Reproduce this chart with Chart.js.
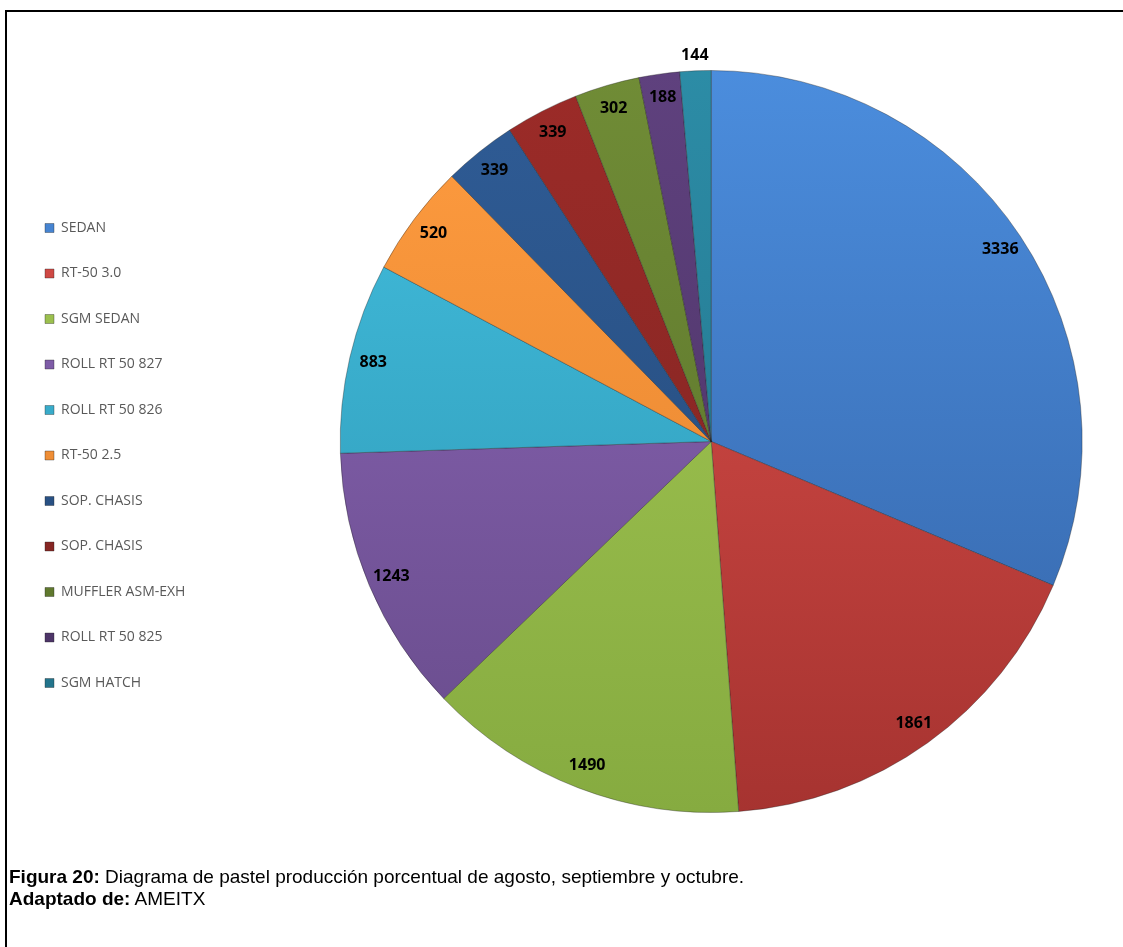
<!DOCTYPE html>
<html>
<head>
<meta charset="utf-8">
<script src="https://cdn.jsdelivr.net/npm/chart.js@4"></script>
<style>
  html, body { margin: 0; padding: 0; background: #fff; overflow: hidden; }
  #marco { position: absolute; left: 5px; top: 10px; width: 1130px; height: 950px;
           border-left: 2px solid #000; border-top: 2px solid #000; }
  #lienzo { position: absolute; left: 0; top: 0; width: 1123px; height: 947px; overflow: hidden; }
  #pie { position: absolute; left: 9px; top: 866px; font-family: "Liberation Sans", Arial, sans-serif;
         font-size: 19px; line-height: 22px; color: #000; }
</style>
</head>
<body>
<div id="marco"></div>
<div id="lienzo"><canvas id="grafico" width="1300" height="947"></canvas></div>
<div id="pie">
  <div><b>Figura 20:</b> Diagrama de pastel producción porcentual de agosto, septiembre y octubre.</div>
  <div><b>Adaptado de:</b> AMEITX</div>
</div>
<script>
// datos
const categorias = ['SEDAN', 'RT-50 3.0', 'SGM SEDAN', 'ROLL RT 50 827', 'ROLL RT 50 826', 'RT-50 2.5',
  'SOP. CHASIS', 'SOP. CHASIS', 'MUFFLER ASM-EXH', 'ROLL RT 50 825', 'SGM HATCH']
const produccion = [3336, 1861, 1490, 1243, 883, 520, 339, 339, 302, 188, 144]

// colores: claro arriba, oscuro abajo
const claros = ['#4b8ddd', '#de514c', '#a6ca55', '#8d67b9', '#43c0e0', '#ff9c40',
  '#2f5c96', '#9c2b28', '#708c36', '#5f417e', '#2c8ca6']
const oscuros = ['#3463a6', '#a63330', '#86ab40', '#674b8a', '#2c93b0', '#e0812c',
  '#244876', '#7a2421', '#58702a', '#483161', '#216f86']

const degradado = (c) => {
  const area = c.chart.chartArea
  const i = c.dataIndex
  if (!area || i === undefined) return claros[i || 0]
  const g = c.chart.ctx.createLinearGradient(0, area.top, 0, area.bottom)
  g.addColorStop(0, claros[i])
  g.addColorStop(1, oscuros[i])
  return g
}

// etiquetas de valor sobre cada rebanada
const etiquetas = {
  id: 'etiquetas',
  afterDatasetsDraw(chart) {
    const ctx = chart.ctx
    const meta = chart.getDatasetMeta(0)
    ctx.save()
    ctx.font = 'bold 16px "Open Sans", sans-serif'
    ctx.fillStyle = '#000'
    ctx.textAlign = 'center'
    ctx.textBaseline = 'middle'
    meta.data.forEach((arco, i) => {
      const p = arco.getProps(['x', 'y', 'startAngle', 'endAngle', 'outerRadius'], true)
      const medio = (p.startAngle + p.endAngle) / 2
      const fuera = (p.endAngle - p.startAngle) < 0.1
      const r = fuera ? p.outerRadius + 15 : p.outerRadius - 24
      ctx.fillText(String(produccion[i]), p.x + Math.cos(medio) * r, p.y + Math.sin(medio) * r)
    })
    ctx.restore()
  }
}

new Chart(document.getElementById('grafico'), {
  type: 'pie',
  data: {
    labels: categorias,
    datasets: [{
      data: produccion,
      backgroundColor: degradado,
      borderColor: 'rgba(30,30,30,0.35)',
      borderWidth: 1
    }]
  },
  options: {
    responsive: false,
    animation: false,
    layout: { padding: { left: 13.5, right: 73, top: 70, bottom: 134 } },
    plugins: {
      tooltip: { enabled: false },
      legend: {
        position: 'left',
        title: { display: true, text: '', padding: 0, font: { size: 14, lineHeight: 2 } },
        labels: {
          boxWidth: 9,
          boxHeight: 9,
          padding: 31.5,
          color: '#595959',
          font: { family: '"Open Sans", sans-serif', size: 14 }
        }
      }
    }
  },
  plugins: [etiquetas]
})
</script>
</body>
</html>
